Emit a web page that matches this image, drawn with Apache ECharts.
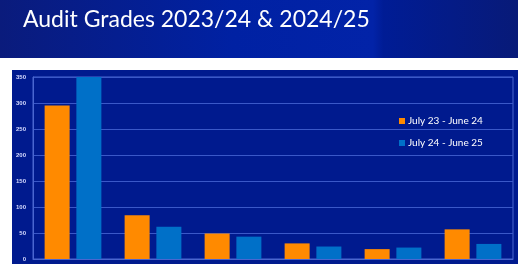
<!DOCTYPE html>
<html><head><meta charset="utf-8">
<script src="https://cdn.jsdelivr.net/npm/echarts@6/dist/echarts.min.js"></script>
<style>html,body{margin:0;padding:0;background:#fff}#c{width:518px;height:264px}</style>
</head><body><div id="c"></div>
<script>
const categories = ['Grade A', 'Grade B', 'Grade C', 'Grade D', 'Grade E', 'Grade F'];
const series2324 = [295, 84, 49, 30, 19, 57];
const series2425 = [350, 62, 43, 24, 22, 29];
const seriesNames = ['July 23 - June 24', 'July 24 - June 25'];
const yTicks = { min: 0, max: 350, interval: 50 };

const chart = echarts.init(document.getElementById('c'), null, { renderer: 'canvas' });
chart.setOption({
  animation: false,
  backgroundColor: '#ffffff',
  graphic: [
    { type: 'rect', z: -10, shape: { x: 0, y: 0, width: 518, height: 58 },
      style: { fill: new echarts.graphic.LinearGradient(0, 0, 1, 0, [
        { offset: 0, color: '#0a1b7c' }, { offset: 0.45, color: '#0021a3' },
        { offset: 0.72, color: '#0223a8' }, { offset: 0.74, color: '#001c95' },
        { offset: 1, color: '#081a78' }]) } },
    { type: 'rect', z: -10, shape: { x: 12, y: 70, width: 506, height: 194 },
      style: { fill: '#001a8e' } },
    { type: 'text', z: 10, left: 23, top: 8,
      style: { text: 'Audit Grades 2023/24 & 2024/25', fill: '#ffffff',
        font: '23px Lato' } }
  ],
  legend: {
    orient: 'vertical', left: 394, top: 111, itemGap: 12,
    itemWidth: 6, itemHeight: 6, icon: 'rect',
    textStyle: { color: '#ffffff', fontSize: 10, fontFamily: 'Lato', padding: [0, 0, 0, -2] },
    data: seriesNames
  },
  grid: { left: 33, right: 5, top: 77, bottom: 5, show: true, borderColor: '#4a66d0', borderWidth: 1, backgroundColor: 'transparent' },
  xAxis: {
    type: 'category', data: categories,
    axisLine: { show: true, lineStyle: { color: '#4a66d0' } },
    axisTick: { show: false }, axisLabel: { show: false }
  },
  yAxis: {
    type: 'value', min: yTicks.min, max: yTicks.max, interval: yTicks.interval,
    axisLine: { show: true, lineStyle: { color: '#4a66d0' } },
    axisTick: { show: false },
    splitLine: { lineStyle: { color: '#3a58c8', width: 1 } },
    axisLabel: { color: '#d8ddff', fontSize: 6, fontWeight: 'bold', fontFamily: 'Liberation Sans', margin: 7 }
  },
  series: [
    { name: seriesNames[0], type: 'bar', data: series2324, barWidth: 25, barGap: '27%',
      itemStyle: { color: '#ff8a00' } },
    { name: seriesNames[1], type: 'bar', data: series2425, barWidth: 25,
      itemStyle: { color: '#0070c8' } }
  ]
});
</script></body></html>
